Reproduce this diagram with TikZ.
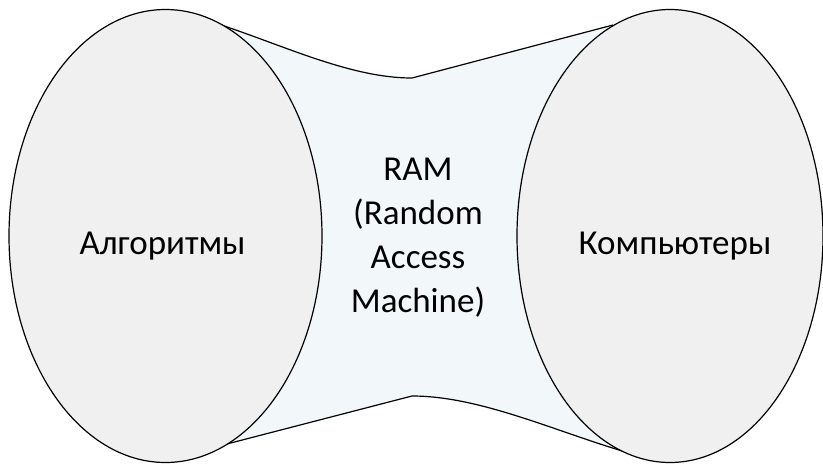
\documentclass[tikz,border=0pt]{standalone}
\usepackage{fontspec}
\setmainfont{Carlito}
\usetikzlibrary{shapes.geometric}
\definecolor{ringfill}{RGB}{240,240,240}
\definecolor{neckfill}{RGB}{242,247,250}
\tikzset{
  ring/.style={ellipse, draw=black, fill=ringfill, line width=1.2pt, inner sep=0pt},
  outline/.style={draw=black, line width=1.2pt, line join=round},
  label/.style={font=\fontsize{35}{44}\selectfont, inner sep=0pt, text=black}
}
\begin{document}
\begin{tikzpicture}[x=1pt, y=-1pt]
  \useasboundingbox (0,0) rectangle (823,464);
  % end points of the neck that joins the two ellipses
  \coordinate (tl) at (167,10);
  \coordinate (tm) at (412,78);
  \coordinate (tr) at (613,25);
  \coordinate (br) at (665,462);
  \coordinate (bm) at (412,396);
  \coordinate (bl) at (223,445);
  \coordinate (lc) at (165.5,236);
  \coordinate (rc) at (670,236);
  % neck fill
  \fill[neckfill] (tl) .. controls (250,27) and (335,78) .. (tm) -- (tr) -- (rc) -- (br)
     .. controls (582,445) and (492,396) .. (bm) -- (bl) -- (lc) -- cycle;
  % neck outline
  \draw[outline] (tl) .. controls (250,27) and (335,78) .. (tm) -- (tr);
  \draw[outline] (br) .. controls (582,445) and (492,396) .. (bm) -- (bl);
  % the two ellipses
  \node[ring, minimum width=313pt, minimum height=453pt] (alg) at (lc) {};
  \node[ring, minimum width=306pt, minimum height=453pt] (comp) at (rc) {};
  % labels
  \node[label, anchor=base] (algtext) at (162.5,254) {Алгоритмы};
  \node[label, anchor=base] (comptext) at (675,254) {Компьютеры};
  \node[label, align=center, anchor=center] (ram) at (418,238) {RAM\\(Random\\Access\\Machine)};
\end{tikzpicture}
\end{document}
